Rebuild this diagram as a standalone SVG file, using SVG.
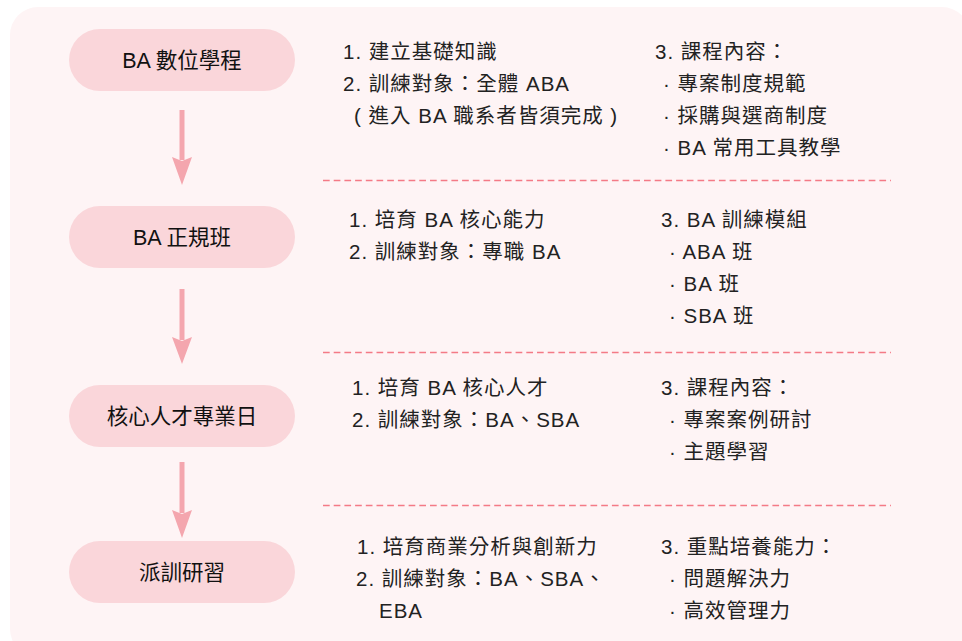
<svg xmlns="http://www.w3.org/2000/svg" width="962" height="641" viewBox="0 0 962 641">
<defs>
<style>
.bg{fill:#fef4f5}
.node rect{fill:#fad6da}
.node text{font-family:"Liberation Sans","Noto Sans CJK TC",sans-serif;font-size:21.5px;fill:#111;text-anchor:middle}
.txt{font-family:"Liberation Sans","Noto Sans CJK TC",sans-serif;font-size:20.5px;fill:#222;letter-spacing:1px}
.dash{stroke:#f47a86;stroke-width:1.3;stroke-dasharray:6.7 4}
.arrow line{stroke:#f4a6ae;stroke-width:5}
.arrow polygon{fill:#f4a6ae}
</style>
</defs>
<rect class="bg" x="10" y="7" width="960" height="650" rx="28"/>
<g id="nodes">
<g id="node1" class="node"><rect x="69" y="29" width="226" height="62" rx="31"/><text x="182" y="67.5">BA 數位學程</text></g>
<g id="node2" class="node"><rect x="69" y="206" width="226" height="62" rx="31"/><text x="182" y="244.5">BA 正規班</text></g>
<g id="node3" class="node"><rect x="69" y="385" width="226" height="62" rx="31"/><text x="182" y="423.5">核心人才專業日</text></g>
<g id="node4" class="node"><rect x="69" y="541" width="226" height="62" rx="31"/><text x="182" y="579.5">派訓研習</text></g>
</g>
<g id="connectors" class="arrow">
<line x1="182" y1="110" x2="182" y2="160"/><polygon points="172,157 182,161 192,157 182,185"/>
<line x1="182" y1="289" x2="182" y2="340"/><polygon points="172,337 182,341 192,337 182,364"/>
<line x1="182" y1="462" x2="182" y2="513"/><polygon points="172,510 182,514 192,510 182,538"/>
</g>
<g id="separators">
<line class="dash" x1="323" y1="180.5" x2="891" y2="180.5"/>
<line class="dash" x1="323" y1="352.5" x2="891" y2="352.5"/>
<line class="dash" x1="323" y1="505.5" x2="891" y2="505.5"/>
</g>
<g id="text1" class="txt">
<text x="343" y="59">1. 建立基礎知識</text>
<text x="343" y="91">2. 訓練對象：全體 ABA</text>
<text x="354" y="123">( 進入 BA 職系者皆須完成 )</text>
<text x="655" y="59">3. 課程內容：</text>
<text x="663" y="91">· 專案制度規範</text>
<text x="663" y="123">· 採購與選商制度</text>
<text x="663" y="155">· BA 常用工具教學</text>
</g>
<g id="text2" class="txt">
<text x="349" y="227">1. 培育 BA 核心能力</text>
<text x="349" y="259">2. 訓練對象：專職 BA</text>
<text x="661" y="227">3. BA 訓練模組</text>
<text x="669" y="259">· ABA 班</text>
<text x="669" y="291">· BA 班</text>
<text x="669" y="323">· SBA 班</text>
</g>
<g id="text3" class="txt">
<text x="352" y="395">1. 培育 BA 核心人才</text>
<text x="352" y="427">2. 訓練對象：BA、SBA</text>
<text x="661" y="395">3. 課程內容：</text>
<text x="669" y="427">· 專案案例研討</text>
<text x="669" y="459">· 主題學習</text>
</g>
<g id="text4" class="txt">
<text x="357" y="554">1. 培育商業分析與創新力</text>
<text x="356" y="586">2. 訓練對象：BA、SBA、</text>
<text x="379" y="618">EBA</text>
<text x="661" y="554">3. 重點培養能力：</text>
<text x="669" y="586">· 問題解決力</text>
<text x="669" y="618">· 高效管理力</text>
</g>
</svg>
